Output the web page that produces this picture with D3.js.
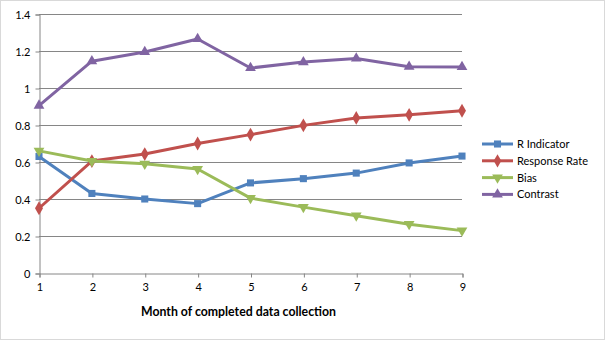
<!DOCTYPE html>
<html><head><meta charset="utf-8">
<script src="https://cdn.jsdelivr.net/npm/d3@7"></script>
<style>body{margin:0;background:#fff}svg{display:block}text{font-family:"Lato","Open Sans",sans-serif}</style>
</head><body><svg id="c" width="605" height="340"></svg>
<script>
const months = [1,2,3,4,5,6,7,8,9];
const rIndicator = [0.63,0.43,0.40,0.375,0.487,0.51,0.54,0.595,0.632];
const responseRate = [0.35,0.605,0.643,0.70,0.748,0.798,0.838,0.855,0.877];
const bias = [0.66,0.605,0.59,0.562,0.405,0.356,0.31,0.264,0.229];
const contrast = [0.905,1.145,1.195,1.265,1.108,1.14,1.16,1.115,1.114];
const yTicks = [0,0.2,0.4,0.6,0.8,1,1.2,1.4];
const seriesNames = ["R Indicator","Response Rate","Bias","Contrast"];
const colors = ["#4F81BD","#C0504D","#9BBB59","#8064A2"];
const symbols = [d3.symbolSquare, d3.symbolDiamond, d3.symbolTriangle, d3.symbolTriangle];
const rotations = [0,0,180,0];
const xTitle = "Month of completed data collection";

const svg = d3.select("#c");
svg.append("rect").attr("x",0.5).attr("y",0.5).attr("width",604).attr("height",339).attr("fill","#fff").attr("stroke","#d9d9d9");
const x = d3.scaleLinear().domain([1,9]).range([39,462]);
const y = d3.scaleLinear().domain([0,1.4]).range([273,14]);

const g = svg.append("g");
g.selectAll("line.grid").data(yTicks.slice(1)).join("line")
  .attr("x1",39).attr("x2",462).attr("y1",d=>Math.round(y(d))+0.5).attr("y2",d=>Math.round(y(d))+0.5)
  .attr("stroke","#868686").attr("stroke-width",1);

const yAxis = svg.append("g").attr("transform","translate(39.5,0.5)")
  .call(d3.axisLeft(y).tickValues(yTicks).tickSize(4).tickFormat(d=>String(d)));
const xAxis = svg.append("g").attr("transform","translate(0.5,273.5)")
  .call(d3.axisBottom(x).tickValues(months).tickSize(4).tickFormat(d3.format("d")));
[yAxis,xAxis].forEach(a=>{
  a.select(".domain").attr("stroke","#868686");
  a.selectAll(".tick line").attr("stroke","#868686");
  a.selectAll("text").attr("fill","#000").attr("font-size","11px").style("font-family","Lato, sans-serif");
});
yAxis.selectAll("text").attr("x",-9);
xAxis.selectAll("text").attr("y",10);

const data = [rIndicator,responseRate,bias,contrast];
const line = d3.line().x((d,i)=>x(months[i])).y(d=>y(d));
data.forEach((vals,k)=>{
  svg.append("path").attr("d",line(vals)).attr("fill","none").attr("stroke",colors[k]).attr("stroke-width",3).attr("stroke-linejoin","round");
  svg.selectAll(null).data(vals).join("path")
    .attr("d",d3.symbol().type(symbols[k]).size(k===1?55:50))
    .attr("transform",(d,i)=>`translate(${x(months[i])},${y(d)}) rotate(${rotations[k]})`)
    .attr("fill",colors[k]);
});

svg.append("text").attr("x",238.5).attr("y",316).attr("text-anchor","middle")
  .attr("font-size","12.3px").attr("font-weight","bold").text(xTitle);

const lg = svg.append("g");
seriesNames.forEach((n,k)=>{
  const yy = 144 + k*16.8;
  lg.append("line").attr("x1",482).attr("x2",513).attr("y1",yy).attr("y2",yy).attr("stroke",colors[k]).attr("stroke-width",3);
  lg.append("path").attr("d",d3.symbol().type(symbols[k]).size(50)).attr("transform",`translate(497.5,${yy}) rotate(${rotations[k]})`).attr("fill",colors[k]);
  lg.append("text").attr("x",517).attr("y",yy+4).attr("font-size","11px").text(n);
});
</script></body></html>
